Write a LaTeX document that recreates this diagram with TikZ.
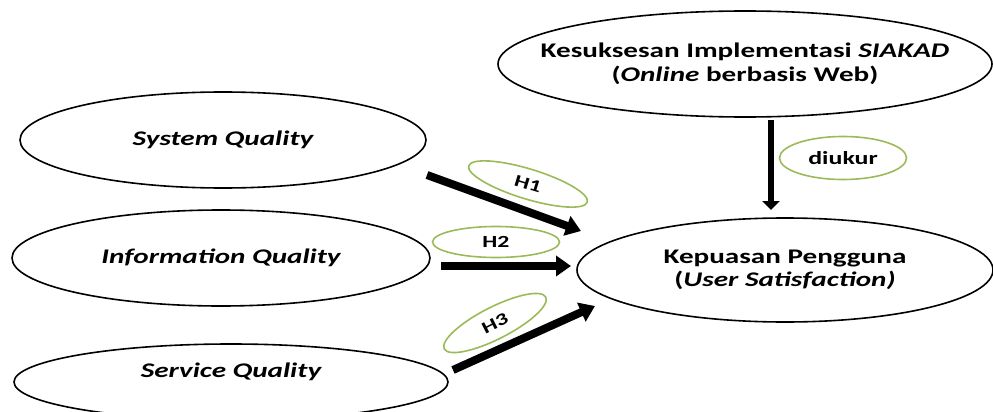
\documentclass[tikz,border=0pt]{standalone}
\usepackage{fontspec}
\setmainfont{Carlito}[FakeStretch=1.4]
\usetikzlibrary{shapes.geometric,arrows.meta}
\definecolor{hgreen}{HTML}{9BBB59}

\begin{document}
\begin{tikzpicture}[x=1pt, y=-1pt, font=\bfseries\fontsize{20.8}{23.5}\selectfont,
    main/.style = {draw, ellipse, line width=1.6pt, inner sep=0pt},
    hyp/.style = {draw=hgreen, ellipse, line width=1.6pt, inner sep=0pt, font=\bfseries\fontsize{17}{20}\selectfont},
    link/.style = {line width=8pt, -{Triangle[length=15pt, width=20pt]}}]
                \useasboundingbox (0,0) rectangle (993,412);
                \clip (0,0) rectangle (993,412);
                \node[main, minimum width=406, minimum height=96] (sq) at (223,140) {\itshape System Quality};
                \node[main, minimum width=418, minimum height=96] (iq) at (221,258) {\itshape Information Quality};
                \node[main, minimum width=434, minimum height=76, label={[yshift=10pt]center:{\itshape Service Quality}}] (sv) at (231,382) {};
                \node[main, minimum width=494, minimum height=106, inner xsep=-55pt, align=center] (ks) at (745,64) {Kesuksesan Implementasi \textit{SIAKAD}\\(\textit{Online} berbasis Web)};
                \node[main, minimum width=416, minimum height=104, align=center] (kp) at (785,270) {Kepuasan Pengguna\\(\textit{User Satisfaction)}};
                \node[hyp, minimum width=124, minimum height=30, rotate=-17] (h1) at (528,184) {H1};
                \node[hyp, minimum width=127, minimum height=31] (h2) at (496,242) {H2};
                \node[hyp, minimum width=114, minimum height=32, rotate=27] (h3) at (495,323) {H3};
                \node[hyp, minimum width=127, minimum height=43, font=\bfseries\fontsize{18.5}{21}\selectfont] (uk) at (843,158) {diukur};
                \coordinate (sq-out) at (427,175);
                \coordinate (iq-out) at (441,266);
                \coordinate (sv-out) at (453,370);
                \coordinate (ks-out) at (771,120);
                \coordinate (kp-in1) at (581,231);
                \coordinate (kp-in2) at (571,266);
                \coordinate (kp-in3) at (595,306);
                \coordinate (kp-in4) at (771,210);
                \draw[link] (sq-out) -- (kp-in1);
                \draw[link] (iq-out) -- (kp-in2);
                \draw[link] (sv-out) -- (kp-in3);
                \draw[line width=6pt, -{Triangle[length=9pt, width=17pt]}] (ks-out) -- (kp-in4);
            \end{tikzpicture}
\end{document}
